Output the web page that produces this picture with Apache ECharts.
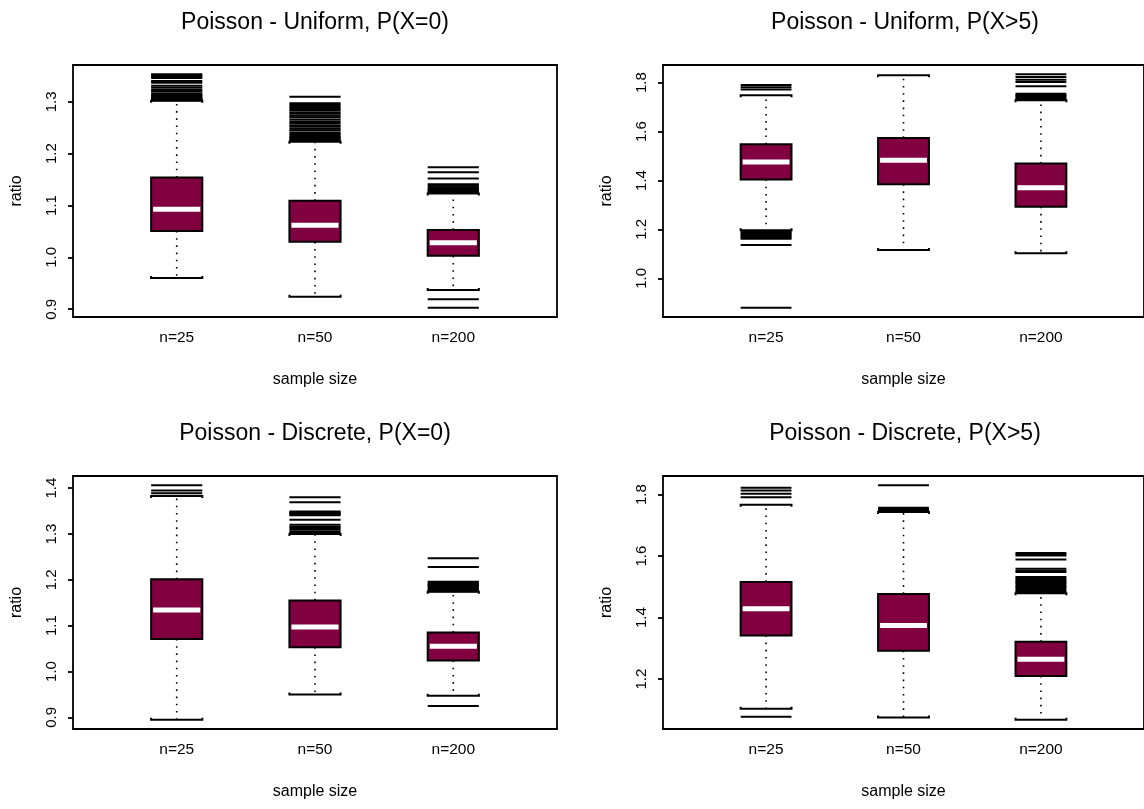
<!DOCTYPE html>
<html>
<head>
<meta charset="utf-8">
<title>Poisson ratio boxplots</title>
<script src="https://cdn.jsdelivr.net/npm/echarts@6/dist/echarts.min.js"></script>
<style>
  html, body { margin: 0; padding: 0; background: #fff; }
  #chart { width: 1144px; height: 809px; }
</style>
</head>
<body>
<div id="chart"></div>
<script>
// ---- data -------------------------------------------------------------
const categories = ['n=25', 'n=50', 'n=200'];

// five-number summaries per sample size: [lower whisker, Q1, median, Q3, upper whisker]
const uniformZeroStats = [
  [0.960, 1.051, 1.093, 1.154, 1.302],
  [0.924, 1.030, 1.062, 1.109, 1.223],
  [0.937, 1.003, 1.028, 1.053, 1.123]
];
const uniformZeroOutliers = [
  [1.353, 1.351, 1.349, 1.346, 1.340, 1.337, 1.331, 1.327, 1.323, 1.320, 1.316, 1.313, 1.311, 1.309, 1.307, 1.306, 1.305, 1.304, 1.303],
  [1.310, 1.297, 1.294, 1.290, 1.287, 1.284, 1.280, 1.277, 1.273, 1.270, 1.266, 1.262, 1.259, 1.255, 1.252, 1.248, 1.245, 1.241, 1.238, 1.235, 1.232, 1.230, 1.228, 1.226, 1.225],
  [1.174, 1.164, 1.152, 1.141, 1.138, 1.135, 1.132, 1.130, 1.128, 1.126, 1.125, 0.919, 0.903]
];
const uniformZeroTicks = [0.9, 1.0, 1.1, 1.2, 1.3];

const uniformTailStats = [
  [1.197, 1.404, 1.476, 1.548, 1.748],
  [1.116, 1.385, 1.483, 1.574, 1.830],
  [1.102, 1.293, 1.370, 1.469, 1.728]
];
const uniformTailOutliers = [
  [1.790, 1.781, 1.772, 1.191, 1.187, 1.183, 1.179, 1.175, 1.170, 1.166, 1.162, 1.136, 0.880],
  [],
  [1.834, 1.823, 1.812, 1.803, 1.785, 1.755, 1.750, 1.745, 1.740, 1.735, 1.731]
];
const uniformTailTicks = [1.0, 1.2, 1.4, 1.6, 1.8];

const discreteZeroStats = [
  [0.895, 1.071, 1.134, 1.201, 1.383],
  [0.950, 1.053, 1.097, 1.155, 1.300],
  [0.947, 1.024, 1.055, 1.085, 1.174]
];
const discreteZeroOutliers = [
  [1.406, 1.395, 1.389],
  [1.380, 1.369, 1.349, 1.347, 1.345, 1.343, 1.341, 1.331, 1.320, 1.316, 1.313, 1.309, 1.305, 1.302],
  [1.247, 1.228, 1.196, 1.193, 1.190, 1.188, 1.186, 1.183, 1.180, 1.177, 1.175, 0.925]
];
const discreteZeroTicks = [0.9, 1.0, 1.1, 1.2, 1.3, 1.4];

const discreteTailStats = [
  [1.103, 1.342, 1.429, 1.516, 1.767],
  [1.075, 1.292, 1.374, 1.477, 1.743],
  [1.068, 1.210, 1.264, 1.321, 1.479]
];
const discreteTailOutliers = [
  [1.822, 1.813, 1.803, 1.791, 1.077],
  [1.830, 1.757, 1.754, 1.751, 1.748, 1.746],
  [1.610, 1.606, 1.602, 1.589, 1.559, 1.552, 1.548, 1.532, 1.528, 1.524, 1.520, 1.516, 1.512, 1.508, 1.503, 1.499, 1.495, 1.490, 1.486, 1.482]
];
const discreteTailTicks = [1.2, 1.4, 1.6, 1.8];

const panelTitles = [
  'Poisson - Uniform, P(X=0)',
  'Poisson - Uniform, P(X>5)',
  'Poisson - Discrete, P(X=0)',
  'Poisson - Discrete, P(X>5)'
];

// ---- layout & style ---------------------------------------------------
const FONT = '"Liberation Sans", Arial, Helvetica, sans-serif';
const BOX_FILL = '#800040';
const BOX_WIDTH = 0.37;          // in category units
const PLOT_W = 484;
const PANELS = [
  { left: 73,  top: 65,  height: 252, stats: uniformZeroStats,   outliers: uniformZeroOutliers,   ticks: uniformZeroTicks },
  { left: 663, top: 65,  height: 252, stats: uniformTailStats,   outliers: uniformTailOutliers,   ticks: uniformTailTicks },
  { left: 73,  top: 476, height: 253, stats: discreteZeroStats,  outliers: discreteZeroOutliers,  ticks: discreteZeroTicks },
  { left: 663, top: 476, height: 253, stats: discreteTailStats,  outliers: discreteTailOutliers,  ticks: discreteTailTicks }
];

// y range as in R: data range widened by 4% on both sides
function paddedRange(stats, outliers) {
  const all = stats.flat().concat(outliers.flat());
  const lo = Math.min(...all), hi = Math.max(...all);
  const d = (hi - lo) * 0.04;
  return [lo - d, hi + d];
}

function renderBox(params, api) {
  const x = api.value(0);
  const lo = api.coord([x, api.value(1)]);
  const q1 = api.coord([x, api.value(2)]);
  const md = api.coord([x, api.value(3)]);
  const q3 = api.coord([x, api.value(4)]);
  const hi = api.coord([x, api.value(5)]);
  const half = api.size([BOX_WIDTH, 0])[0] / 2;
  const cx = md[0];
  const dotted = { stroke: '#000', lineWidth: 1.6, lineDash: [1.6, 5.6] };
  const staple = { stroke: '#000', lineWidth: 2, fill: null };
  return {
    type: 'group',
    children: [
      { type: 'line', shape: { x1: cx, y1: q3[1], x2: cx, y2: hi[1] }, style: dotted },
      { type: 'line', shape: { x1: cx, y1: q1[1], x2: cx, y2: lo[1] }, style: dotted },
      { type: 'polyline', shape: { points: [[cx - half, hi[1] + 2], [cx - half, hi[1]], [cx + half, hi[1]], [cx + half, hi[1] + 2]] }, style: staple },
      { type: 'polyline', shape: { points: [[cx - half, lo[1] - 2], [cx - half, lo[1]], [cx + half, lo[1]], [cx + half, lo[1] - 2]] }, style: staple },
      { type: 'rect', shape: { x: cx - half, y: q3[1], width: 2 * half, height: q1[1] - q3[1] },
        style: { fill: BOX_FILL, stroke: '#000', lineWidth: 2 } },
      { type: 'line', shape: { x1: cx - half + 2, y1: md[1], x2: cx + half - 2, y2: md[1] },
        style: { stroke: '#fff', lineWidth: 5 } }
    ]
  };
}

function renderOutlier(params, api) {
  const p = api.coord([api.value(0), api.value(1)]);
  const half = api.size([BOX_WIDTH, 0])[0] / 2;
  return { type: 'line', shape: { x1: p[0] - half, y1: p[1], x2: p[0] + half, y2: p[1] },
           style: { stroke: '#000', lineWidth: 2 } };
}

const grid = [], xAxis = [], yAxis = [], series = [], graphic = [];
PANELS.forEach((pn, i) => {
  const [ymin, ymax] = paddedRange(pn.stats, pn.outliers);
  grid.push({ left: pn.left, top: pn.top, width: PLOT_W, height: pn.height,
              show: true, borderColor: '#000', borderWidth: 1.8, backgroundColor: 'transparent' });
  xAxis.push({
    type: 'value', gridIndex: i, min: 0.25, max: 3.75,
    axisLine: { show: false }, splitLine: { show: false },
    axisTick: { show: false },
    axisLabel: { customValues: [1, 2, 3], formatter: v => categories[Math.round(v) - 1],
                 color: '#000', fontFamily: FONT, fontSize: 15.5, margin: 13 },
    name: 'sample size', nameLocation: 'middle', nameGap: 55,
    nameTextStyle: { color: '#000', fontFamily: FONT, fontSize: 16 }
  });
  yAxis.push({
    type: 'value', gridIndex: i, min: ymin, max: ymax,
    axisLine: { show: false }, splitLine: { show: false },
    axisTick: { show: true, customValues: pn.ticks, length: 5, lineStyle: { color: '#000', width: 1.8 } },
    axisLabel: { customValues: pn.ticks, formatter: v => v.toFixed(1), rotate: 90,
                 color: '#000', fontFamily: FONT, fontSize: 15, margin: 14 },
    name: 'ratio', nameLocation: 'middle', nameGap: 48, nameRotate: 90,
    nameTextStyle: { color: '#000', fontFamily: FONT, fontSize: 16 }
  });
  series.push({
    type: 'custom', xAxisIndex: i, yAxisIndex: i, renderItem: renderBox,
    encode: { x: 0, y: [1, 2, 3, 4, 5] },
    data: pn.stats.map((s, k) => [k + 1].concat(s)), z: 2
  });
  series.push({
    type: 'custom', xAxisIndex: i, yAxisIndex: i, renderItem: renderOutlier,
    encode: { x: 0, y: 1 },
    data: pn.outliers.flatMap((list, k) => list.map(v => [k + 1, v])), z: 3
  });
  graphic.push({
    type: 'text', x: pn.left + PLOT_W / 2, y: pn.top - 42,
    style: { text: panelTitles[i], fill: '#000', font: '23px ' + FONT, align: 'center', verticalAlign: 'middle' }
  });
});

const chart = echarts.init(document.getElementById('chart'), null, { renderer: 'canvas' });
chart.setOption({
  animation: false,
  backgroundColor: '#fff',
  grid, xAxis, yAxis, series, graphic
});
</script>
</body>
</html>
